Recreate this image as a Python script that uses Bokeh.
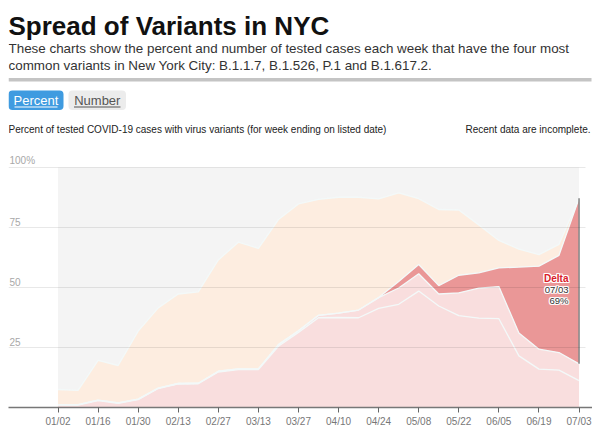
import numpy as np
from bokeh.plotting import figure
from bokeh.models import FixedTicker, BoxAnnotation
from bokeh.core.properties import value
from bokeh.embed import file_html
from bokeh.resources import INLINE

# ---------------- data ----------------
weeks = ["01/02", "01/09", "01/16", "01/23", "01/30", "02/06", "02/13", "02/20",
         "02/27", "03/06", "03/13", "03/20", "03/27", "04/03", "04/10", "04/17",
         "04/24", "05/01", "05/08", "05/15", "05/22", "05/29", "06/05", "06/12",
         "06/19", "06/26", "07/03"]
b117 = [1.0, 1.0, 2.9, 1.7, 3.3, 7.9, 9.8, 9.9, 14.8, 15.8, 15.8, 25.5, 31.3, 37.4,
        37.5, 37.4, 41.3, 43.0, 48.5, 42.3, 38.3, 37.2, 37.0, 21.5, 16.0, 15.6, 11.2]
p1 = [0.2, 0.2, 0.2, 0.2, 0.2, 0.2, 0.2, 0.2, 0.3, 0.3, 0.3, 0.7, 0.7, 1.0,
      1.8, 3.2, 4.5, 6.8, 7.2, 5.0, 9.5, 12.5, 13.4, 9.5, 8.3, 7.3, 7.0]
delta = [0, 0, 0, 0, 0, 0, 0, 0, 0, 0, 0, 0, 0, 0,
         0, 0, 0, 2.7, 3.9, 3.5, 7.3, 6.4, 7.8, 27.5, 34.6, 40.5, 69.0]
b1526 = [6.3, 5.9, 16.5, 15.6, 28.3, 33.4, 37.3, 38.1, 46.4, 52.8, 50.2, 52.1, 52.8, 48.3,
         48.3, 47.0, 41.1, 36.9, 27.4, 31.7, 27.2, 19.9, 11.4, 7.5, 4.8, 4.6, 0.0]
y_ticks = [25, 50, 75, 100]
y_tick_labels = ["25", "50", "75", "100%"]
x_tick_idx = list(range(0, 27, 2))

# ---------------- stacking ----------------
x = np.arange(len(weeks))
c1 = np.array(b117, dtype=float)
c2 = c1 + np.array(p1)
c3 = c2 + np.array(delta)
c4 = c3 + np.array(b1526)

# ---------------- geometry (page pixel helpers) ----------------
PXW = 20.04      # px per week
PXY = 2.4        # px per percent
FW, FH = 584, 399
X0 = -49.5 / PXW


def px(page_x):
    return (page_x - 57.5) / PXW


def py(page_y):
    return (407.0 - page_y) / PXY


FONT = value("Liberation Sans")

PINK = "#f9dede"
RED = "#ea9797"
PEACH = "#fdede0"
BG = "#f4f4f4"
SEP = "#f3f9f9"

p = figure(frame_width=FW, frame_height=FH,
           x_range=(X0, X0 + FW / PXW), y_range=(0, FH / PXY),
           output_backend="svg", toolbar_location=None, y_axis_location=None,
           min_border_left=8, min_border_right=0, min_border_top=8, min_border_bottom=0)
p.outline_line_color = None
p.xgrid.visible = False
p.ygrid.visible = False
p.background_fill_color = "white"
p.border_fill_color = "white"

# x axis
ax = p.xaxis[0]
ax.ticker = FixedTicker(ticks=x_tick_idx)
ax.major_label_overrides = {i: weeks[i] for i in x_tick_idx}
ax.axis_line_color = "#777777"
ax.axis_line_width = 1.5
ax.major_tick_line_color = "#666666"
ax.major_tick_out = 5
ax.major_tick_in = 0
ax.minor_tick_line_color = None
ax.major_label_text_font = "Liberation Sans"
ax.major_label_text_font_size = "10px"
ax.major_label_text_color = "#777777"
ax.major_label_standoff = 3

# chart background
p.quad(left=[0], right=[len(weeks) - 1], bottom=[0], top=[100], fill_color=BG, line_color=None)

# stacked areas
p.varea(x=x, y1=0, y2=c1, fill_color=PINK)
p.varea(x=x, y1=c1, y2=c2, fill_color=PINK)
p.varea(x=x, y1=c2, y2=c3, fill_color=RED)
p.varea(x=x, y1=c3, y2=c4, fill_color=PEACH)
for c in (c1, c2, c3, c4):
    p.line(x=x, y=c, line_color=SEP, line_width=1.3)

# last-week highlight edge of the Delta band
p.segment(x0=[x[-1]], y0=[c2[-1]], x1=[x[-1]], y1=[c3[-1]], line_color="#8a8a8a", line_width=1.6)

# gridlines on top
p.segment(x0=[px(8)] * len(y_ticks), y0=y_ticks, x1=[px(585)] * len(y_ticks), y1=y_ticks,
          line_color="black", line_alpha=0.09, line_width=1)

# y labels
p.text(x=[px(9)] * len(y_ticks), y=y_ticks, text=y_tick_labels, y_offset=-2,
       text_baseline="bottom", text_align="left", text_font=FONT,
       text_font_size="10px", text_color="#a8a8a8")

# Delta label with halo
lab_x = px(568)
lab_y = [py(277.5), py(288.5), py(299.5)]
lab_t = ["Delta", weeks[-1], "%d%%" % round(delta[-1])]
lab_c = ["#d9212b", "#333333", "#333333"]
lab_st = ["bold", "normal", "normal"]
lab_sz = ["10px", "9.5px", "9.5px"]
for yy, tt, cc, st, sz in zip(lab_y, lab_t, lab_c, lab_st, lab_sz):
    for dx, dy in [(-1, 0), (1, 0), (0, -1), (0, 1), (-1, -1), (1, 1), (-1, 1), (1, -1)]:
        p.text(x=[lab_x], y=[yy], text=[tt], x_offset=dx, y_offset=dy,
               text_align="right", text_baseline="middle", text_font=FONT,
               text_font_style=st, text_font_size=sz, text_color="white")
    p.text(x=[lab_x], y=[yy], text=[tt], text_align="right", text_baseline="middle",
           text_font=FONT, text_font_style=st, text_font_size=sz, text_color=cc)

# ---------------- header ----------------
p.text(x=[px(8)], y=[py(25.5)], text=["Spread of Variants in NYC"], text_font=FONT,
       text_font_style="bold", text_font_size="26px", text_baseline="alphabetic",
       text_color="#111111")
p.text(x=[px(8), px(8)], y=[py(47.5), py(64.5)],
       text=["These charts show the percent and number of tested cases each week that have the four most",
             "common variants in New York City: B.1.1.7, B.1.526, P.1 and B.1.617.2."],
       text_font=FONT, text_font_size="13.4px", text_baseline="alphabetic", text_color="#333333")
p.quad(left=[px(8)], right=[px(591)], bottom=[py(81)], top=[py(77.5)], fill_color="#c4c4c4",
       line_color=None)

# buttons
b1 = BoxAnnotation(left=px(8), right=px(63), top=py(90), bottom=py(109.5), fill_color="#3f9be0",
                   fill_alpha=1, line_color=None, border_radius=4, level="underlay")
b2 = BoxAnnotation(left=px(68), right=px(125.5), top=py(90), bottom=py(109.5), fill_color="#ececec",
                   fill_alpha=1, line_color=None, border_radius=4, level="underlay")
p.add_layout(b1)
p.add_layout(b2)
p.text(x=[px(35.5)], y=[py(100)], text=["Percent"], text_align="center", text_baseline="middle",
       text_font=FONT, text_font_size="13px", text_color="white")
p.text(x=[px(96.8)], y=[py(100)], text=["Number"], text_align="center", text_baseline="middle",
       text_font=FONT, text_font_size="13px", text_color="#555555")
p.segment(x0=[px(14), px(73.5)], y0=[py(106.5)] * 2, x1=[px(57), px(120)], y1=[py(106.5)] * 2,
          line_color=["white", "#555555"], line_width=1)

# caption row
p.text(x=[px(8)], y=[py(129)],
       text=["Percent of tested COVID-19 cases with virus variants (for week ending on listed date)"],
       text_font=FONT, text_font_size="10px", text_baseline="middle", text_color="#222222")
p.text(x=[px(590)], y=[py(129)], text=["Recent data are incomplete."], text_align="right",
       text_font=FONT, text_font_size="10px", text_baseline="middle", text_color="#222222")

open("out.html", "w").write(file_html(p, INLINE))
